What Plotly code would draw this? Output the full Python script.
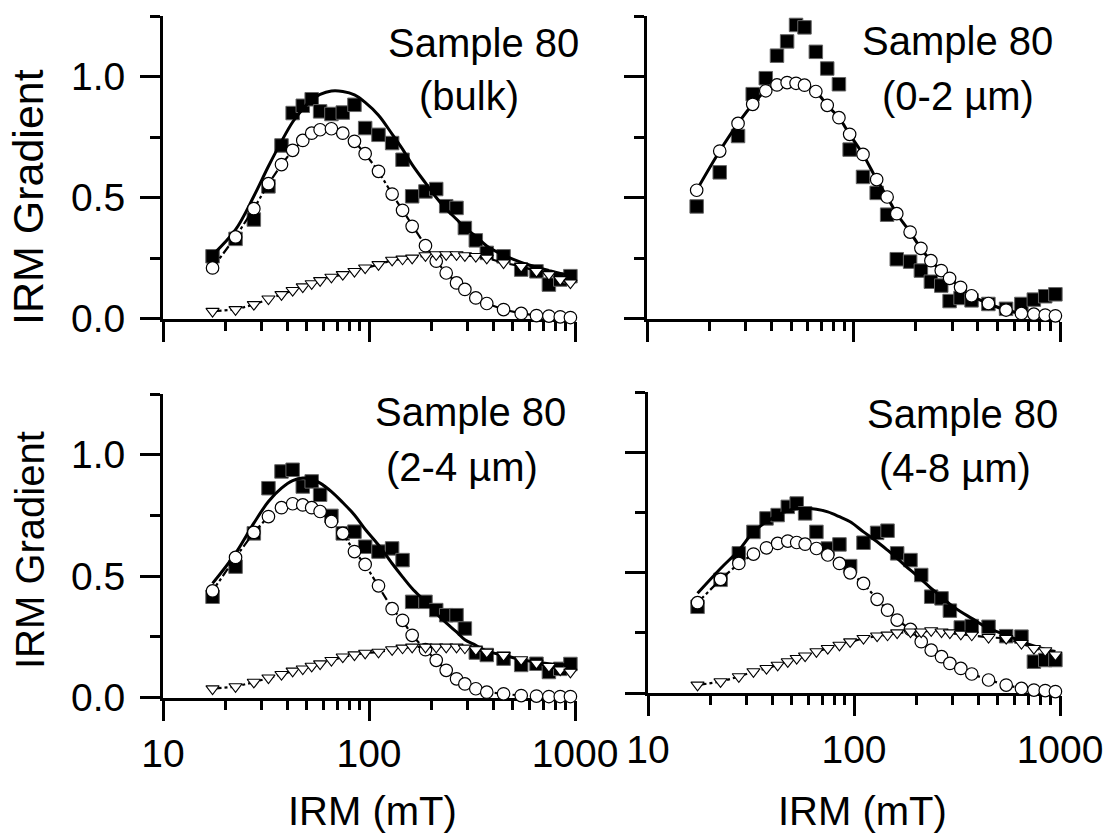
import plotly.graph_objects as go

W, H = 1108, 837
FONT = "Liberation Sans, Arial, Helvetica, sans-serif"

# ---------------- data ----------------
field_mT = [17.4, 22.5, 27.6, 32.5, 37.6, 42.6, 47.7, 52.7, 57.9, 65.7, 74.6, 85.0, 95.8, 111.2,
            129.5, 145.5, 162, 188, 212, 237, 266, 292, 330, 373, 450, 548, 650, 747, 848, 950]

x_major = [10, 100, 1000]
x_major_text = ["10", "100", "1000"]
x_minor = [20, 30, 40, 50, 60, 70, 80, 90, 200, 300, 400, 500, 600, 700, 800, 900]
y_major = [0, 0.5, 1.0]
y_major_text = ["0.0", "0.5", "1.0"]
y_minor = [0.25, 0.75, 1.25]

# Sample 80 (bulk)
bulk_data = [0.257, 0.329, 0.409, 0.546, 0.715, 0.849, 0.879, 0.906, 0.856, 0.845, 0.851, 0.883, 0.787, 0.759,
             0.725, 0.656, 0.505, 0.525, 0.535, 0.464, 0.457, 0.374, 0.323, 0.271, 0.257, 0.202, 0.195, 0.140, 0.161, 0.175]
bulk_comp1 = [0.209, 0.337, 0.454, 0.557, 0.636, 0.695, 0.736, 0.766, 0.780, 0.784, 0.766, 0.732, 0.681, 0.608,
              0.514, 0.447, 0.381, 0.301, 0.237, 0.188, 0.147, 0.120, 0.085, 0.062, 0.037, 0.021, 0.012, 0.010, 0.007, 0.004]
bulk_comp2 = [0.030, 0.037, 0.058, 0.081, 0.099, 0.116, 0.131, 0.144, 0.157, 0.171, 0.182, 0.195, 0.209, 0.223,
              0.241, 0.246, 0.250, 0.260, 0.264, 0.264, 0.264, 0.260, 0.257, 0.250, 0.230, 0.216, 0.195, 0.182, 0.161, 0.147]
bulk_fit = [0.262, 0.367, 0.505, 0.629, 0.732, 0.812, 0.866, 0.904, 0.926, 0.940, 0.938, 0.924, 0.893, 0.840,
            0.762, 0.700, 0.636, 0.560, 0.500, 0.452, 0.410, 0.375, 0.340, 0.300, 0.262, 0.232, 0.212, 0.198, 0.186, 0.177]

# Sample 80 (0-2 um)
f02_data = [0.463, 0.604, 0.754, 0.927, 0.993, 1.086, 1.145, 1.213, 1.203, 1.102, 1.033, 0.968, 0.698, 0.585,
            0.519, 0.429, 0.245, 0.235, 0.198, 0.152, 0.136, 0.072, 0.085, 0.075, 0.060, 0.040, 0.060, 0.078, 0.092, 0.100]
f02_comp1 = [0.530, 0.692, 0.806, 0.885, 0.941, 0.965, 0.975, 0.972, 0.964, 0.938, 0.881, 0.830, 0.761, 0.678,
             0.574, 0.502, 0.433, 0.357, 0.290, 0.239, 0.198, 0.166, 0.129, 0.094, 0.062, 0.035, 0.021, 0.018, 0.014, 0.011]
f02_fit = [0.530, 0.692, 0.806, 0.885, 0.941, 0.965, 0.975, 0.972, 0.964, 0.938, 0.881, 0.830, 0.761, 0.678,
           0.574, 0.502, 0.433, 0.357, 0.290, 0.239, 0.198, 0.166, 0.129, 0.094, 0.062, 0.035, 0.021, 0.018, 0.014, 0.011]

# Sample 80 (2-4 um)
f24_data = [0.415, 0.539, 0.676, 0.862, 0.931, 0.938, 0.869, 0.890, 0.835, 0.748, 0.676, 0.683, 0.621, 0.601,
            0.614, 0.566, 0.394, 0.394, 0.360, 0.339, 0.339, 0.284, 0.185, 0.175, 0.160, 0.134, 0.139, 0.105, 0.118, 0.138]
f24_comp1 = [0.439, 0.577, 0.680, 0.745, 0.782, 0.798, 0.793, 0.782, 0.766, 0.725, 0.676, 0.601, 0.548, 0.460,
             0.366, 0.318, 0.256, 0.197, 0.153, 0.112, 0.077, 0.056, 0.036, 0.022, 0.015, 0.008, 0.006, 0.004, 0.004, 0.004]
f24_comp2 = [0.036, 0.045, 0.063, 0.081, 0.095, 0.109, 0.118, 0.129, 0.139, 0.153, 0.167, 0.176, 0.183, 0.187,
             0.197, 0.204, 0.208, 0.208, 0.208, 0.208, 0.208, 0.204, 0.197, 0.187, 0.174, 0.156, 0.142, 0.128, 0.114, 0.105]
f24_fit = [0.470, 0.594, 0.718, 0.807, 0.862, 0.893, 0.904, 0.899, 0.883, 0.848, 0.803, 0.752, 0.693, 0.628,
           0.552, 0.497, 0.449, 0.394, 0.346, 0.307, 0.270, 0.238, 0.215, 0.191, 0.174, 0.156, 0.146, 0.139, 0.136, 0.135]

# Sample 80 (4-8 um)
f48_data = [0.358, 0.470, 0.580, 0.669, 0.725, 0.739, 0.773, 0.787, 0.746, 0.669, 0.600, 0.617, 0.527, 0.624,
            0.665, 0.674, 0.580, 0.552, 0.490, 0.400, 0.393, 0.342, 0.272, 0.278, 0.275, 0.236, 0.234, 0.130, 0.137, 0.137]
f48_comp1 = [0.375, 0.472, 0.538, 0.577, 0.603, 0.621, 0.631, 0.625, 0.618, 0.600, 0.573, 0.538, 0.499, 0.455,
             0.389, 0.344, 0.303, 0.264, 0.213, 0.178, 0.151, 0.123, 0.102, 0.079, 0.054, 0.033, 0.019, 0.012, 0.010, 0.006]
f48_comp2 = [0.033, 0.047, 0.068, 0.089, 0.102, 0.116, 0.130, 0.144, 0.154, 0.172, 0.185, 0.199, 0.213, 0.227,
             0.237, 0.241, 0.250, 0.254, 0.254, 0.259, 0.254, 0.250, 0.245, 0.241, 0.231, 0.227, 0.206, 0.185, 0.176, 0.158]
f48_fit = [0.414, 0.517, 0.593, 0.669, 0.711, 0.739, 0.757, 0.766, 0.766, 0.763, 0.752, 0.732, 0.711, 0.669,
           0.628, 0.593, 0.559, 0.510, 0.472, 0.434, 0.400, 0.369, 0.337, 0.310, 0.268, 0.241, 0.213, 0.195, 0.181, 0.172]

panel_labels = [("Sample 80", "(bulk)"), ("Sample 80", "(0-2 µm)"),
                ("Sample 80", "(2-4 µm)"), ("Sample 80", "(4-8 µm)")]
y_title = "IRM Gradient"
x_title = "IRM (mT)"

# ---------------- layout geometry (pixels) ----------------
# (left, right, top(y=1.25), bottom(y=0))
boxes = [(163, 575, 16.0, 318.5), (647, 1060, 16.0, 318.5),
         (163, 575, 394.0, 697.5), (648, 1060, 392.0, 693.0)]
label_pos = [((483, 43), (469, 96)), ((957, 41), (958, 96)),
             ((470, 412), (462, 467)), ((962, 414), (955, 468))]

panels = [
    (bulk_data, bulk_comp1, bulk_comp2, bulk_fit),
    (f02_data, f02_comp1, None, f02_fit),
    (f24_data, f24_comp1, f24_comp2, f24_fit),
    (f48_data, f48_comp1, f48_comp2, f48_fit),
]

fig = go.Figure()
layout = dict(width=W, height=H, margin=dict(l=0, r=0, t=0, b=0, autoexpand=False),
              paper_bgcolor="white", plot_bgcolor="white", showlegend=False,
              font=dict(family=FONT, color="black"))

annotations = []


def px_to_paper(px, py):
    return px / W, 1 - py / H


for i, ((data, c1, c2, fit), box) in enumerate(zip(panels, boxes)):
    n = "" if i == 0 else str(i + 1)
    xa, ya = "x" + n, "y" + n
    # squares (measured)
    fig.add_trace(go.Scatter(x=field_mT, y=data, mode="markers", xaxis=xa, yaxis=ya,
                             marker=dict(symbol="square", size=13.5, color="black",
                                         line=dict(color="#666", width=1)), cliponaxis=False))
    # total fit
    fig.add_trace(go.Scatter(x=field_mT, y=fit, mode="lines", xaxis=xa, yaxis=ya,
                             line=dict(color="black", width=3, shape="spline"), cliponaxis=False))
    # component 1
    fig.add_trace(go.Scatter(x=field_mT, y=c1, mode="lines+markers" if c2 is not None else "markers",
                             xaxis=xa, yaxis=ya,
                             line=dict(color="black", width=2.2, dash="dashdot"),
                             marker=dict(symbol="circle", size=12.5, color="white",
                                         line=dict(color="black", width=1.2)), cliponaxis=False))
    if c2 is not None:
        fig.add_trace(go.Scatter(x=field_mT, y=c2, mode="lines+markers", xaxis=xa, yaxis=ya,
                                 line=dict(color="black", width=2.2, dash="dashdot"),
                                 marker=dict(symbol="triangle-down", size=11.5, color="white",
                                             line=dict(color="black", width=1.1)), cliponaxis=False))

    l, r, t, b = box
    bottom_row = i >= 2
    layout["xaxis" + n] = dict(
        type="log", range=[1, 3], domain=[l / W, r / W], anchor=ya, automargin=False,
        showline=True, linecolor="black", linewidth=3, mirror=False,
        ticks="outside", ticklen=20, tickwidth=3, tickcolor="black",
        tickmode="array", tickvals=x_major, ticktext=x_major_text,
        showticklabels=bottom_row, tickfont=dict(size=39, family=FONT),
        minor=dict(tickmode="array", tickvals=x_minor, ticks="outside", ticklen=9,
                   tickwidth=3, tickcolor="black", showgrid=False),
        showgrid=False, zeroline=False, layer="below traces", fixedrange=True)
    layout["yaxis" + n] = dict(
        range=[0, 1.25], domain=[1 - b / H, 1 - t / H], anchor=xa, automargin=False,
        showline=True, linecolor="black", linewidth=3,
        ticks="outside", ticklen=20, tickwidth=3, tickcolor="black",
        tickmode="array", tickvals=y_major, ticktext=y_major_text,
        showticklabels=(i % 2 == 0), tickfont=dict(size=39, family=FONT),
        ticklabelstandoff=7,
        minor=dict(tickmode="array", tickvals=y_minor, ticks="outside", ticklen=10,
                   tickwidth=3, tickcolor="black", showgrid=False),
        showgrid=False, zeroline=False, layer="below traces", fixedrange=True)

    for text, (px, py) in zip(panel_labels[i], label_pos[i]):
        xp, yp = px_to_paper(px, py)
        annotations.append(dict(text=text, x=xp, y=yp, xref="paper", yref="paper",
                                xanchor="center", yanchor="middle", showarrow=False,
                                font=dict(size=40, family=FONT, color="black")))

# axis titles
for (px, py, sz) in [(28, 197, 43), (30, 550, 40)]:
    xp, yp = px_to_paper(px, py)
    annotations.append(dict(text=y_title, x=xp, y=yp, xref="paper", yref="paper", textangle=-90,
                            xanchor="center", yanchor="middle", showarrow=False,
                            font=dict(size=sz, family=FONT, color="black")))
for (px, py) in [(372, 811), (862, 811)]:
    xp, yp = px_to_paper(px, py)
    annotations.append(dict(text=x_title, x=xp, y=yp, xref="paper", yref="paper",
                            xanchor="center", yanchor="middle", showarrow=False,
                            font=dict(size=40, family=FONT, color="black")))

layout["annotations"] = annotations
fig.update_layout(**layout)
fig.write_html("out.html")
